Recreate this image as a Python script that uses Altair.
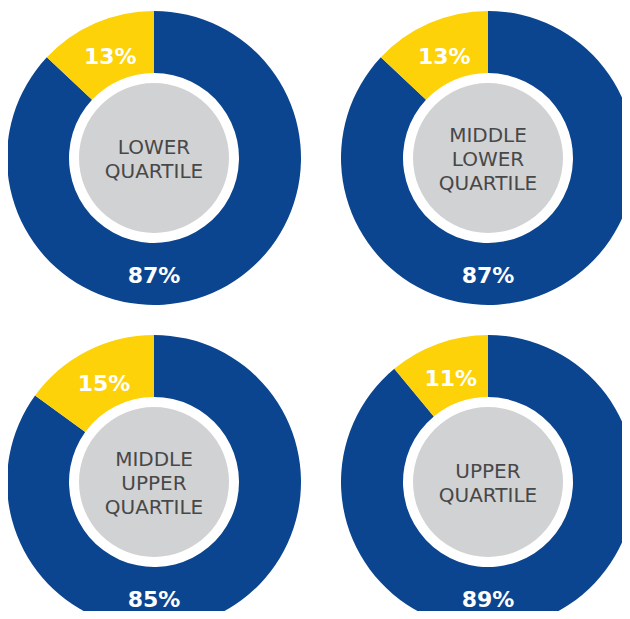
import altair as alt
import pandas as pd

quartiles = ["Lower quartile", "Middle lower quartile", "Middle upper quartile", "Upper quartile"]
center_labels = ["LOWER\nQUARTILE", "MIDDLE\nLOWER\nQUARTILE", "MIDDLE\nUPPER\nQUARTILE", "UPPER\nQUARTILE"]
groups = ["Group A", "Group B"]
share_a = [87, 87, 85, 89]
share_b = [13, 13, 15, 11]

BLUE = "#0b4590"
YELLOW = "#fed208"
GRAY = "#d1d2d4"
TEXT_GRAY = "#484848"
FONT = "DejaVu Sans"

rows = []
for i, (q, c, a, b) in enumerate(zip(quartiles, center_labels, share_a, share_b)):
    n_lines = c.count("\n") + 1
    for g, v, o in ((groups[0], a, 0), (groups[1], b, 1)):
        rows.append({"quartile": q, "center": c, "lines": n_lines, "group": g, "value": v,
                     "ord": o, "label": f"{v}%", "col": i % 2, "row": i // 2})
df = pd.DataFrame(rows)

W, H = 614, 603
R_OUT, R_IN, R_GRAY = 147, 85, 75

base = alt.Chart(df).transform_stack(
    stack="value", as_=["v0", "v1"], groupby=["quartile"], sort=[alt.SortField("ord")]
).transform_calculate(mid="(datum.v0 + datum.v1) / 2")

X = alt.X("col:Q", scale=alt.Scale(domain=[0, 1], range=[146, 480], nice=False, zero=False), axis=None)
Y = alt.Y("row:Q", scale=alt.Scale(domain=[0, 1], range=[150, 474], nice=False, zero=False), axis=None)
TSCALE = alt.Scale(domain=[0, 100], range=[0, 6.283185307], nice=False, zero=False)

arcs = base.mark_arc(innerRadius=R_IN, outerRadius=R_OUT, clip=True).encode(
    x=X, y=Y,
    theta=alt.Theta("v0:Q", scale=TSCALE),
    theta2="v1:Q",
    color=alt.Color("group:N", scale=alt.Scale(domain=groups, range=[BLUE, YELLOW]), legend=None),
)

minor = base.transform_filter(alt.datum.ord == 1).mark_text(
    radius=110, font=FONT, fontWeight="bold", fontSize=22, color="white",
    align="center", baseline="middle", clip=True
).encode(x=X, y=Y, theta=alt.Theta("mid:Q", scale=TSCALE), text="label:N")

major_base = base.transform_filter(alt.datum.ord == 0)

gray = major_base.mark_arc(outerRadius=R_GRAY, theta=0, theta2=6.283185307, clip=True).encode(
    x=X, y=Y, color=alt.value(GRAY)
)

center2 = major_base.transform_filter(alt.datum.lines == 2).mark_text(
    font=FONT, fontSize=20, fontWeight="normal", color=TEXT_GRAY, lineBreak="\n", lineHeight=24,
    align="center", baseline="middle", dy=-10, clip=True
).encode(x=X, y=Y, text="center:N")

center3 = major_base.transform_filter(alt.datum.lines == 3).mark_text(
    font=FONT, fontSize=20, fontWeight="normal", color=TEXT_GRAY, lineBreak="\n", lineHeight=24,
    align="center", baseline="middle", dy=-22, clip=True
).encode(x=X, y=Y, text="center:N")

major = major_base.mark_text(
    font=FONT, fontWeight="bold", fontSize=22, color="white",
    align="center", baseline="middle", dy=118, clip=True
).encode(x=X, y=Y, text="label:N")

chart = alt.layer(arcs, minor, gray, center2, center3, major).properties(
    width=W, height=H, padding=0
).configure_view(strokeWidth=0)

chart.save("out.html", embed_options={"renderer": "svg", "actions": False})
